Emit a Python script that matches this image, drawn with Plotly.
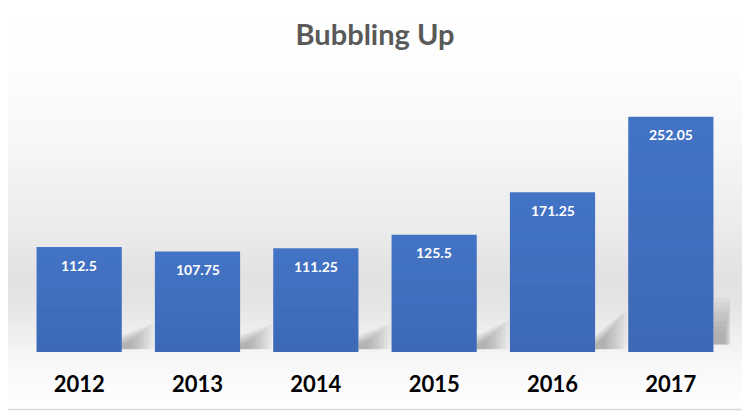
import plotly.graph_objects as go
import numpy as np

# ---- data ----
years = ["2012", "2013", "2014", "2015", "2016", "2017"]
values = [112.5, 107.75, 111.25, 125.5, 171.25, 252.05]
title_text = "Bubbling Up"

# ---- layout geometry ----
# the page body adds an 8px offset, so the figure is drawn 8px smaller
OFF = 8
W, H = 750 - OFF, 417 - OFF
L_M, R_M, T_M, B_M = 12, 20, 64, 65
PW = W - L_M - R_M
PH = H - T_M - B_M
BARGAP = 0.28
YMAX = 300

idx = list(range(len(years)))


def px(x):  # screen pixel -> paper x
    return (x - OFF - L_M) / PW


def py(y):  # screen pixel -> paper y
    return (H - B_M - (y - OFF)) / PH


fig = go.Figure()
fig.add_trace(go.Bar(
    x=idx, y=values,
    marker=dict(color="#4474C6", line=dict(width=0)),
    customdata=years,
    hovertemplate="%{customdata}: %{y}<extra></extra>",
))

shapes = []
# background vertical gradient (white -> grey band -> white)
anchors_y = [2, 70, 150, 230, 275, 300, 330, 360, 390, 409]
anchors_g = [255, 253, 246, 235, 226, 228, 237, 247, 252, 254]
step = 3
for yy in range(3, 409, step):
    g = int(round(np.interp(yy + step / 2, anchors_y, anchors_g)))
    shapes.append(dict(
        type="rect", xref="paper", yref="paper",
        x0=px(5), x1=px(747), y0=py(min(yy + step, 408.5)), y1=py(yy),
        fillcolor=f"rgb({g},{g},{g})", line=dict(width=0), layer="below",
    ))

# soft bar shadows (decorative, derived from bar values)
half = (1 - BARGAP) / 2
for i, v in zip(idx, values):
    xr = i + half
    last = i == len(values) - 1
    for e in np.linspace(1.0, 0.3, 8):
        if last:
            Lx = 0.15 * (0.5 + 0.5 * e)
            y0 = 8
            s0 = 8 + (0.23 * v - 8) * e
            s1 = s0
        else:
            Lx = 0.27 * e
            y0 = 3
            s0 = 3 + 15 * e
            s1 = 3 + 0.25 * v * e
        path = (f"M {xr},{y0} L {xr},{s0:.2f} "
                f"L {xr + Lx:.3f},{s1:.2f} L {xr + Lx:.3f},{y0} Z")
        shapes.append(dict(
            type="path", xref="x", yref="y", path=path,
            fillcolor="rgba(90,90,90,0.06)", line=dict(width=0),
            layer="below",
        ))

# subtle vertical shading on the bars
nb = 12
for i, v in zip(idx, values):
    for k in range(nb):
        a = 0.11 * (k + 0.5) / nb
        shapes.append(dict(
            type="rect", xref="x", yref="y",
            x0=i - half, x1=i + half,
            y0=v * (nb - k - 1) / nb, y1=v * (nb - k) / nb,
            fillcolor=f"rgba(10,20,60,{a:.3f})", line=dict(width=0),
            layer="above",
        ))

# outer border (right and bottom edges are inside the figure)
bc = "#dadada"
shapes.append(dict(type="line", xref="paper", yref="paper",
                   x0=px(748), x1=px(748), y0=py(3), y1=py(409.5),
                   line=dict(color=bc, width=1.5), layer="above"))
shapes.append(dict(type="line", xref="paper", yref="paper",
                   x0=px(8), x1=px(748), y0=py(409.5), y1=py(409.5),
                   line=dict(color=bc, width=1.5), layer="above"))

annotations = []
for i, v in zip(idx, values):
    annotations.append(dict(
        x=i, y=v, xref="x", yref="y", text=str(v), showarrow=False,
        yshift=-18, yanchor="middle",
        font=dict(family="Lato", size=14, color="white", weight="bold"),
    ))

fig.update_layout(
    width=W, height=H,
    margin=dict(l=L_M, r=R_M, t=T_M, b=B_M, pad=0),
    paper_bgcolor="white",
    plot_bgcolor="rgba(0,0,0,0)",
    bargap=BARGAP,
    showlegend=False,
    title=dict(
        text=title_text, x=(375 - OFF) / W, xanchor="center",
        y=1 - (35 - OFF) / H, yanchor="middle", yref="container",
        font=dict(family="Lato", size=29, color="#595959", weight="bold"),
    ),
    xaxis=dict(
        range=[-0.5, len(years) - 0.5], showgrid=False, zeroline=False,
        showline=False, ticks="", ticklabelstandoff=17,
        tickmode="array", tickvals=idx, ticktext=years,
        tickfont=dict(family="Lato", size=22, color="#000000", weight="bold"),
    ),
    yaxis=dict(
        range=[0, YMAX], visible=False, showgrid=False, zeroline=False,
    ),
    shapes=shapes,
    annotations=annotations,
)

fig.write_html("out.html")
